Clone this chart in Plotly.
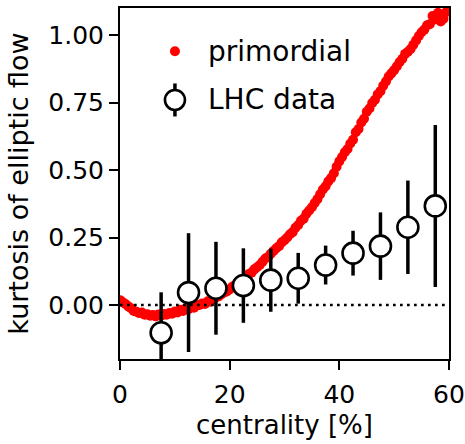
import plotly.graph_objects as go

# primordial prediction
prim_x = [0.0, 0.5, 1.0, 1.5, 2.0, 2.5, 3.0, 3.5, 4.0, 4.5, 5.0, 5.5, 6.0, 6.5, 7.0, 7.5, 8.0, 8.5, 9.0, 9.5,
          10.0, 10.5, 11.0, 11.5, 12.0, 12.5, 13.0, 13.5, 14.0, 14.5, 15.0, 15.5, 16.0, 16.5, 17.0, 17.5, 18.0, 18.5, 19.0, 19.5,
          20.0, 20.5, 21.0, 21.5, 22.0, 22.5, 23.0, 23.5, 24.0, 24.5, 25.0, 25.5, 26.0, 26.5, 27.0, 27.5, 28.0, 28.5, 29.0, 29.5,
          30.0, 30.5, 31.0, 31.5, 32.0, 32.5, 33.0, 33.5, 34.0, 34.5, 35.0, 35.5, 36.0, 36.5, 37.0, 37.5, 38.0, 38.5, 39.0, 39.5,
          40.0, 40.5, 41.0, 41.5, 42.0, 42.5, 43.0, 43.5, 44.0, 44.5, 45.0, 45.5, 46.0, 46.5, 47.0, 47.5, 48.0, 48.5, 49.0, 49.5,
          50.0, 50.5, 51.0, 51.5, 52.0, 52.5, 53.0, 53.5, 54.0, 54.5, 55.0, 55.5, 56.0, 56.5, 57.0, 57.5, 58.0, 58.5, 59.0, 59.5]
prim_y = [0.018, 0.010, 0.004, -0.005, -0.012, -0.022, -0.025, -0.030, -0.028, -0.036,
          -0.034, -0.040, -0.037, -0.042, -0.035, -0.040, -0.033, -0.036, -0.030, -0.032,
          -0.024, -0.028, -0.018, -0.022, -0.012, -0.016, -0.008, -0.010, -0.002, 0.000,
          0.006, 0.004, 0.014, 0.012, 0.022, 0.028, 0.032, 0.040, 0.046, 0.050,
          0.058, 0.068, 0.074, 0.080, 0.090, 0.096, 0.104, 0.115, 0.120, 0.132,
          0.140, 0.148, 0.160, 0.172, 0.178, 0.190, 0.200, 0.210, 0.218, 0.232,
          0.240, 0.250, 0.262, 0.270, 0.286, 0.296, 0.312, 0.320, 0.338, 0.350,
          0.362, 0.378, 0.392, 0.410, 0.428, 0.440, 0.458, 0.470, 0.488, 0.512,
          0.532, 0.548, 0.566, 0.578, 0.598, 0.612, 0.640, 0.652, 0.676, 0.690,
          0.716, 0.728, 0.748, 0.760, 0.780, 0.792, 0.812, 0.828, 0.846, 0.858,
          0.870, 0.884, 0.900, 0.912, 0.930, 0.938, 0.948, 0.964, 0.980, 0.996,
          1.010, 1.020, 1.036, 1.040, 1.070, 1.058, 1.082, 1.050, 1.060, 1.085]

# LHC data
lhc_x = [7.5, 12.5, 17.5, 22.5, 27.5, 32.5, 37.5, 42.5, 47.5, 52.5, 57.5]
lhc_y = [-0.103, 0.046, 0.062, 0.072, 0.092, 0.099, 0.148, 0.192, 0.218, 0.288, 0.367]
lhc_err = [0.15, 0.22, 0.172, 0.138, 0.117, 0.094, 0.072, 0.083, 0.125, 0.173, 0.300]

x_ticks = [0, 20, 40, 60]
y_ticks = [0.0, 0.25, 0.5, 0.75, 1.0]

FONT = "DejaVu Sans"

fig = go.Figure()

fig.add_trace(go.Scatter(x=prim_x, y=prim_y, mode="markers", name="primordial",
                         marker=dict(color="#ff0000", size=10, line=dict(width=0)),
                         showlegend=False, cliponaxis=True))

fig.add_trace(go.Scatter(x=[0, 60], y=[0, 0], mode="lines",
                         line=dict(color="black", width=2.7, dash="2.7px,4.3px"),
                         showlegend=False, hoverinfo="skip"))

fig.add_trace(go.Scatter(x=lhc_x, y=lhc_y, mode="markers", name="LHC data",
                         error_y=dict(type="data", array=lhc_err, color="black", thickness=3.5, width=0),
                         marker=dict(symbol="circle", size=21, color="white",
                                     line=dict(color="black", width=2.6)),
                         showlegend=False, cliponaxis=True))

# legend keys on an overlay axis
fig.add_trace(go.Scatter(x=[0.167], y=[0.877], mode="markers", xaxis="x2", yaxis="y2",
                         marker=dict(color="#ff0000", size=10), showlegend=False, hoverinfo="skip"))
fig.add_trace(go.Scatter(x=[0.167], y=[0.738], mode="markers", xaxis="x2", yaxis="y2",
                         error_y=dict(type="constant", value=0.047, color="black", thickness=3.5, width=0),
                         marker=dict(symbol="circle", size=20, color="white",
                                     line=dict(color="black", width=2.6)),
                         showlegend=False, hoverinfo="skip"))

for txt, yy in [("primordial", 0.877), ("LHC data", 0.738)]:
    fig.add_annotation(text=txt, x=0.262, y=yy, xref="paper", yref="paper",
                       xanchor="left", yanchor="middle", showarrow=False,
                       font=dict(family=FONT, size=28, color="black"))

axis_common = dict(showline=True, linecolor="black", linewidth=2, mirror=True,
                   ticks="outside", ticklen=9, tickwidth=2, tickcolor="black",
                   showgrid=False, zeroline=False, automargin=False,
                   tickfont=dict(family=FONT, size=25, color="black"))

fig.update_layout(
    width=465, height=444,
    margin=dict(l=120, r=16, t=8, b=85, autoexpand=False),
    plot_bgcolor="white", paper_bgcolor="white",
    showlegend=False,
    xaxis=dict(range=[0, 60], tickvals=x_ticks, ticktext=[str(v) for v in x_ticks],
               ticklabelstandoff=3,
               title=dict(text="centrality [%]", font=dict(family=FONT, size=26, color="black"), standoff=8),
               **axis_common),
    yaxis=dict(range=[-0.2, 1.1], tickvals=y_ticks, ticktext=[f"{v:.2f}" for v in y_ticks],
               title=dict(text="kurtosis of elliptic flow", font=dict(family=FONT, size=27, color="black"), standoff=12),
               **axis_common),
    xaxis2=dict(range=[0, 1], overlaying="x", visible=False, fixedrange=True),
    yaxis2=dict(range=[0, 1], overlaying="y", visible=False, fixedrange=True),
)

fig.write_html("out.html", config={"displayModeBar": False},
               post_script="document.body.style.margin='0';document.body.style.overflow='hidden';")
